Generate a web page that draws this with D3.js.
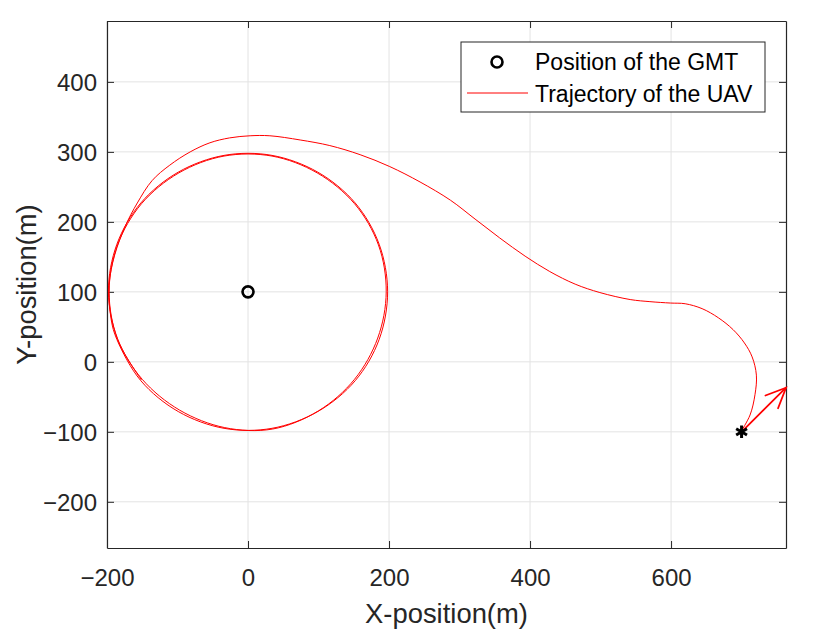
<!DOCTYPE html>
<html>
<head>
<meta charset="utf-8">
<script src="https://cdn.jsdelivr.net/npm/d3@7"></script>
<style>
  body { margin: 0; background: #fff; }
  text { font-family: "Liberation Sans", Arial, Helvetica, sans-serif; fill: #262626; }
</style>
</head>
<body>
<div id="chart"></div>
<script>
// tick labels
const xTicks = [-200, 0, 200, 400, 600];
const yTicks = [-200, -100, 0, 100, 200, 300, 400];

// ground moving target and UAV start / heading
const gmtPos = [[0, 100]];
const uavStart = [700, -100];
const uavHeading = [63, 63];

// trajectory: approach leg, then loiter loops
const approachPath = [
  [699, -100], [712, -76], [719, -47], [721, -19], [715, 7], [704, 27], [688, 46],
  [667, 63], [644, 76], [620, 83], [599, 84], [570, 86], [542, 89], [499, 99],
  [464, 111], [428, 129], [393, 151], [357, 177], [322, 204], [287, 231], [244, 257],
  [201, 279], [159, 296], [116, 309], [74, 317], [31, 323], [3, 323], [-26, 320],
  [-54, 313], [-82, 300], [-111, 281], [-136, 259], [-157, 227], [-174, 194],
  [-189, 153], [-197, 110]
];
const loop1 = [
  [-194, 60], [-186, 32], [-152, -27], [-99, -71], [-34, -95], [34, -95], [99, -71], [152, -27],
  [186, 32], [198, 100], [186, 168], [152, 227], [99, 271], [34, 295], [-34, 295],
  [-99, 271], [-152, 227], [-186, 168], [-198, 100]
];
const loop2 = [
  [-185, 33], [-150, -25], [-97, -69], [-33, -94], [35, -96], [100, -70], [151, -25],
  [184, 34], [196, 100], [185, 167], [151, 226], [98, 270], [34, 294], [-34, 294],
  [-98, 270], [-151, 226], [-185, 167], [-197, 100], [-185, 32], [-151, -26]
];

const W = 815, H = 633;
const margin = { top: 21, right: 29, bottom: 85, left: 107 };
const width = W - margin.left - margin.right,
  height = H - margin.top - margin.bottom;
const axisColor = "#262626";

const svg = d3.select("#chart").append("svg")
  .attr("width", W).attr("height", H);
const g = svg.append("g")
  .attr("transform", "translate(" + margin.left + "," + margin.top + ")");

const x = d3.scaleLinear().domain([-200, 763]).range([0, width]);
const y = d3.scaleLinear().domain([-266, 487]).range([height, 0]);

// grid
g.append("g").selectAll("line").data(xTicks).enter().append("line")
  .attr("x1", d => x(d)).attr("x2", d => x(d))
  .attr("y1", 0).attr("y2", height)
  .attr("stroke", "#e3e3e3").attr("stroke-width", 1);
g.append("g").selectAll("line").data(yTicks).enter().append("line")
  .attr("y1", d => y(d)).attr("y2", d => y(d))
  .attr("x1", 0).attr("x2", width)
  .attr("stroke", "#e3e3e3").attr("stroke-width", 1);

// axes (ticks inside, mirrored like matlab box)
const tl = 7;
const xAxis = g.append("g").attr("transform", "translate(0," + height + ")")
  .call(d3.axisBottom(x).tickValues(xTicks).tickSize(-tl).tickPadding(tl + 14).tickSizeOuter(0));
const yAxis = g.append("g")
  .call(d3.axisLeft(y).tickValues(yTicks).tickSize(-tl).tickPadding(tl + 3).tickSizeOuter(0));
g.append("g")
  .call(d3.axisTop(x).tickValues(xTicks).tickSize(-tl).tickFormat("").tickSizeOuter(0));
g.append("g").attr("transform", "translate(" + width + ",0)")
  .call(d3.axisRight(y).tickValues(yTicks).tickSize(-tl).tickFormat("").tickSizeOuter(0));
g.selectAll(".domain").attr("stroke", axisColor).attr("stroke-width", 1.2);
g.selectAll(".tick line").attr("stroke", axisColor).attr("stroke-width", 1);
g.selectAll(".tick text").style("font-size", "24px")
  .style("font-family", "'Liberation Sans', Arial, sans-serif").attr("fill", axisColor);
xAxis.selectAll(".tick text").attr("dy", "0.71em");
yAxis.selectAll(".tick text").attr("dy", "0.36em");

// axis labels
svg.append("text")
  .attr("x", margin.left + width / 2).attr("y", 623)
  .attr("text-anchor", "middle").style("font-size", "27.4px")
  .text("X-position(m)");
svg.append("text")
  .attr("transform", "translate(36," + (margin.top + height / 2) + ") rotate(-90)")
  .attr("text-anchor", "middle").style("font-size", "27.4px")
  .text("Y-position(m)");

// clip
g.append("defs").append("clipPath").attr("id", "clip")
  .append("rect").attr("width", width).attr("height", height);

const line = d3.line()
  .x(d => x(d[0])).y(d => y(d[1]))
  .curve(d3.curveCatmullRom.alpha(0.5));

const traj = approachPath.concat(loop1, loop2);
g.append("path")
  .datum(traj)
  .attr("clip-path", "url(#clip)")
  .attr("d", line)
  .attr("fill", "none").attr("stroke", "#ff0000").attr("stroke-width", 1);

// GMT marker
g.selectAll(".gmt").data(gmtPos).enter().append("circle")
  .attr("class", "gmt")
  .attr("cx", d => x(d[0])).attr("cy", d => y(d[1]))
  .attr("r", 5.5)
  .attr("fill", "none").attr("stroke", "#000").attr("stroke-width", 2.6);

// heading arrow
const ax0 = x(uavStart[0]), ay0 = y(uavStart[1]);
const ax1 = x(uavStart[0] + uavHeading[0]), ay1 = y(uavStart[1] + uavHeading[1]);
const ang = Math.atan2(ay0 - ay1, ax0 - ax1);
const headLen = 22, headAng = 0.42;
const arrow = g.append("g").attr("stroke", "#ff0000").attr("stroke-width", 1.8)
  .attr("fill", "none").attr("stroke-linecap", "round");
arrow.append("line").attr("x1", ax0).attr("y1", ay0).attr("x2", ax1).attr("y2", ay1);
arrow.append("polyline").attr("points", [
  [ax1 + headLen * Math.cos(ang + headAng), ay1 + headLen * Math.sin(ang + headAng)],
  [ax1, ay1],
  [ax1 + headLen * Math.cos(ang - headAng), ay1 + headLen * Math.sin(ang - headAng)]
].map(p => p.join(",")).join(" "));

// UAV start star marker
g.append("path")
  .attr("transform", "translate(" + ax0 + "," + ay0 + ")")
  .attr("d", d3.symbol().type(d3.symbolAsterisk).size(110)())
  .attr("fill", "none").attr("stroke", "#000").attr("stroke-width", 3);

// legend
const lg = svg.append("g");
lg.append("rect")
  .attr("x", 461).attr("y", 42).attr("width", 304).attr("height", 70)
  .attr("fill", "#fff").attr("stroke", axisColor).attr("stroke-width", 1);
lg.append("circle").attr("cx", 497).attr("cy", 62).attr("r", 5.5)
  .attr("fill", "none").attr("stroke", "#000").attr("stroke-width", 2.6);
lg.append("text").attr("x", 535).attr("y", 70).style("font-size", "23px")
  .style("fill", "#000")
  .text("Position of the GMT");
lg.append("line").attr("x1", 467).attr("x2", 528).attr("y1", 93).attr("y2", 93)
  .attr("stroke", "#ff0000").attr("stroke-width", 1);
lg.append("text").attr("x", 535).attr("y", 102).style("font-size", "23px")
  .style("fill", "#000")
  .text("Trajectory of the UAV");
</script>
</body>
</html>
